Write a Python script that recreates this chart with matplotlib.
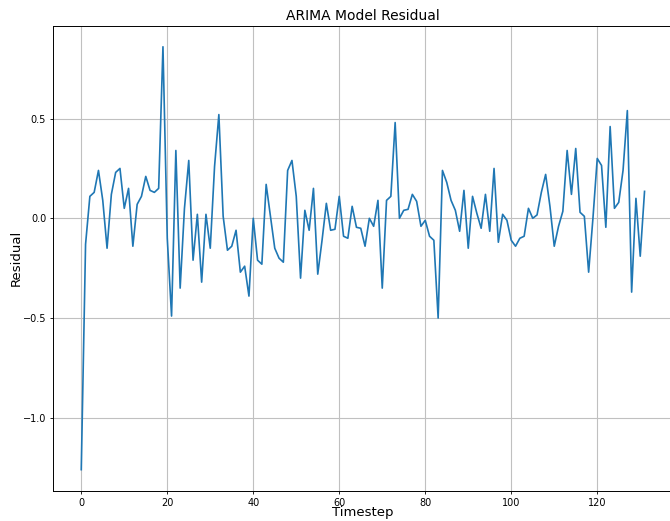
import matplotlib
matplotlib.use("Agg")
import matplotlib.pyplot as plt
import numpy as np

residual = [
    -1.26, -0.13, 0.11, 0.13, 0.24, 0.09, -0.15, 0.12, 0.23, 0.25,
    0.05, 0.15, -0.14, 0.07, 0.11, 0.21, 0.14, 0.13, 0.15, 0.86,
    -0.10, -0.49, 0.34, -0.35, 0.05, 0.29, -0.21, 0.02, -0.32, 0.02,
    -0.15, 0.26, 0.52, 0.01, -0.16, -0.14, -0.06, -0.27, -0.24, -0.39,
    0.00, -0.21, -0.23, 0.17, 0.01, -0.15, -0.20, -0.22, 0.24, 0.29,
    0.11, -0.30, 0.04, -0.06, 0.15, -0.28, -0.11, 0.075, -0.06, -0.055,
    0.11, -0.09, -0.10, 0.06, -0.045, -0.05, -0.14, 0.00, -0.04, 0.09,
    -0.35, 0.09, 0.11, 0.48, 0.00, 0.04, 0.045, 0.12, 0.085, -0.04,
    -0.01, -0.09, -0.11, -0.50, 0.24, 0.18, 0.09, 0.04, -0.065, 0.14,
    -0.15, 0.11, 0.025, -0.05, 0.12, -0.065, 0.25, -0.12, 0.02, -0.01,
    -0.11, -0.14, -0.10, -0.09, 0.05, 0.00, 0.017, 0.13, 0.22, 0.06,
    -0.14, -0.04, 0.035, 0.34, 0.12, 0.35, 0.03, 0.01, -0.27, 0.00,
    0.30, 0.265, -0.045, 0.46, 0.05, 0.08, 0.24, 0.54, -0.37, 0.10,
    -0.19, 0.135,
]
timestep = np.arange(len(residual))

fig = plt.figure(figsize=(6.7, 5.21), dpi=100)
W, H = 670, 521
left, right, top, bottom = 53.1, 672.7, 25.6, 490.8
ax = fig.add_axes([left / W, (H - bottom) / H, (right - left) / W, (bottom - top) / H])

ax.plot(timestep, residual, color="#1f77b4", linewidth=1.2)
ax.set_yticks([-1.0, -0.5, 0.0, 0.5])
ax.set_xticks([0, 20, 40, 60, 80, 100, 120])
ax.grid(True, color="#c0c0c0", linewidth=0.8)
ax.tick_params(labelsize=7, length=2.5, width=0.6, pad=2.5)
for s in ax.spines.values():
    s.set_linewidth(0.7)
ax.set_title("ARIMA Model Residual", fontsize=10, pad=4)
ax.set_xlabel("Timestep", fontsize=9.5, labelpad=-1)
ax.set_ylabel("Residual", fontsize=9.5, labelpad=0)

fig.savefig("out.png", dpi=100)
